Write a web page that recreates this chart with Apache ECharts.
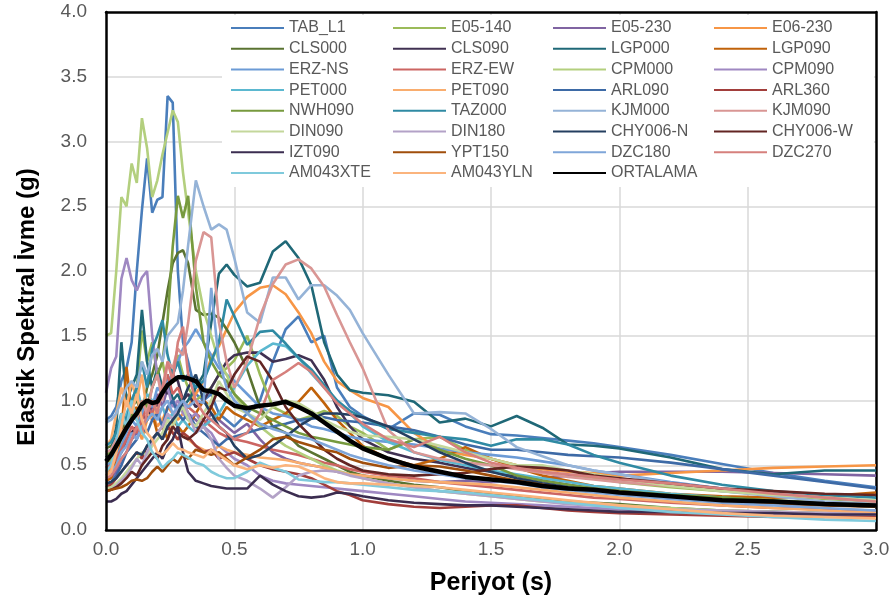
<!DOCTYPE html>
<html>
<head>
<meta charset="utf-8">
<script src="https://cdn.jsdelivr.net/npm/echarts@6/dist/echarts.min.js"></script>
<style>
  html, body { margin: 0; padding: 0; background: #fff; }
  #chart { width: 894px; height: 606px; }
</style>
</head>
<body>
<div id="chart"></div>
<script>
// periyotlar (s)
const periods = [
  0, 0.02, 0.04, 0.06, 0.08, 0.10, 0.12, 0.14, 0.16, 0.18, 0.20, 0.22, 0.24, 0.26, 0.28, 0.30,
  0.32, 0.35, 0.38, 0.41, 0.44, 0.47, 0.50,
  0.55, 0.60, 0.65, 0.70, 0.75, 0.80, 0.85, 0.90, 0.95, 1.0,
  1.1, 1.2, 1.3, 1.4, 1.5, 1.6, 1.7, 1.8, 1.9, 2.0, 2.2, 2.4, 2.6, 2.8, 3.0
];

// spektral ivme değerleri (g), resimden okunmuş yaklaşık değerler
const TAB_L1 = [0.85, 0.88, 0.95, 1.15, 1.25, 1.45, 2.0, 2.47, 2.87, 2.45, 2.55, 2.57, 3.35, 3.3, 2.0, 1.45,
  1.3, 1.05, 1.0, 1.05, 0.9, 0.85, 0.8,
  0.9, 1.0, 1.3, 1.55, 1.65, 1.45, 1.5, 1.1, 0.95, 0.88,
  0.78, 0.9, 0.89, 0.8, 0.74, 0.73, 0.71, 0.69, 0.67, 0.64, 0.58, 0.51, 0.44, 0.38, 0.33];
const E05_140 = [0.52, 0.54, 0.6, 0.7, 0.8, 0.9, 1.1, 1.54, 1.3, 1.45, 1.2, 1.3, 1.1, 1.2, 1.35, 1.2,
  1.1, 1.0, 1.05, 1.1, 1.2, 1.25, 1.31,
  1.5, 1.2, 0.95, 0.9, 0.85, 0.88, 0.92, 0.88, 0.8, 0.75,
  0.62, 0.7, 0.72, 0.62, 0.55, 0.5, 0.45, 0.42, 0.4, 0.37, 0.33, 0.3, 0.27, 0.24, 0.22];
const E05_230 = [0.38, 0.4, 0.45, 0.55, 0.6, 0.7, 0.75, 0.9, 0.85, 0.95, 1.05, 0.95, 1.1, 1.0, 0.95, 1.0,
  0.9, 0.85, 0.8, 0.9, 0.85, 0.8, 0.75,
  0.82, 0.7, 0.6, 0.55, 0.52, 0.5, 0.48, 0.45, 0.43, 0.42,
  0.4, 0.38, 0.37, 0.38, 0.37, 0.38, 0.4, 0.42, 0.44, 0.45, 0.45, 0.45, 0.44, 0.43, 0.42];
const E06_230 = [0.45, 0.47, 0.55, 0.6, 0.7, 0.75, 0.8, 0.7, 0.85, 0.9, 0.8, 0.85, 0.95, 0.9, 0.85, 0.9,
  0.95, 1.05, 1.15, 1.33, 1.42, 1.55, 1.68,
  1.8, 1.87, 1.89, 1.82, 1.68, 1.52, 1.3, 1.15, 1.08, 1.02,
  0.95, 0.75, 0.62, 0.58, 0.55, 0.5, 0.47, 0.45, 0.44, 0.42, 0.44, 0.46, 0.48, 0.49, 0.5];
const CLS000 = [0.63, 0.65, 0.7, 0.75, 0.85, 0.95, 1.0, 0.9, 1.1, 1.2, 1.35, 1.6, 1.85, 2.06, 2.14, 2.16,
  2.06, 1.7, 1.66, 1.67, 1.64, 1.55, 1.45,
  1.24, 0.95, 0.8, 0.75, 0.65, 0.6, 0.55, 0.5, 0.45, 0.42,
  0.38, 0.35, 0.33, 0.3, 0.28, 0.26, 0.24, 0.22, 0.21, 0.2, 0.17, 0.15, 0.14, 0.13, 0.12];
const CLS090 = [0.48, 0.5, 0.55, 0.6, 0.7, 0.75, 0.8, 0.9, 0.85, 1.0, 0.95, 1.1, 1.05, 1.2, 1.15, 1.0,
  1.05, 0.95, 1.0, 1.1, 1.2, 1.3, 1.35,
  1.37, 1.37, 1.3, 1.32, 1.35, 1.31, 1.16, 0.95, 0.8, 0.7,
  0.6, 0.55, 0.52, 0.48, 0.45, 0.42, 0.38, 0.35, 0.32, 0.3, 0.27, 0.24, 0.22, 0.2, 0.18];
const LGP000 = [0.56, 0.6, 0.8, 1.45, 1.0, 1.1, 1.2, 1.7, 1.3, 1.1, 1.25, 1.1, 1.2, 1.0, 1.05, 0.95,
  1.0, 1.1, 1.2, 1.6, 1.98, 2.05, 1.97,
  1.88, 1.91, 2.15, 2.23, 2.1, 1.89, 1.45, 1.2, 1.08, 1.06,
  1.04, 0.99, 0.83, 0.86, 0.8, 0.88, 0.79, 0.66, 0.65, 0.63, 0.56, 0.47, 0.43, 0.46, 0.46];
const LGP090 = [0.38, 0.4, 0.55, 0.75, 1.26, 0.9, 0.95, 0.8, 0.85, 0.9, 0.75, 0.8, 0.7, 0.85, 0.8, 0.75,
  0.8, 0.9, 1.0, 0.95, 0.85, 0.95, 0.9,
  0.85, 0.8, 0.85, 0.9, 0.99, 1.1, 0.98, 0.85, 0.75, 0.65,
  0.55, 0.5, 0.55, 0.64, 0.55, 0.48, 0.42, 0.38, 0.34, 0.32, 0.28, 0.26, 0.25, 0.26, 0.29];
const ERZ_NS = [0.5, 0.52, 0.55, 0.65, 0.75, 0.85, 0.8, 0.9, 1.0, 0.95, 1.1, 1.05, 1.15, 1.2, 1.3, 1.4,
  1.45, 1.55, 1.45, 1.35, 1.25, 1.2, 1.15,
  1.05, 0.95, 0.9, 0.88, 0.85, 0.8, 0.78, 0.75, 0.72, 0.7,
  0.68, 0.66, 0.63, 0.6, 0.58, 0.56, 0.53, 0.5, 0.46, 0.43, 0.37, 0.32, 0.28, 0.25, 0.22];
const ERZ_EW = [0.48, 0.5, 0.55, 0.62, 0.7, 0.8, 0.75, 0.85, 0.95, 0.9, 1.0, 1.1, 1.2, 1.05, 1.1, 1.0,
  0.95, 0.9, 0.85, 0.8, 0.75, 0.72, 0.7,
  0.68, 0.65, 0.62, 0.6, 0.58, 0.55, 0.52, 0.5, 0.47, 0.45,
  0.42, 0.4, 0.37, 0.35, 0.33, 0.31, 0.29, 0.27, 0.25, 0.24, 0.21, 0.19, 0.17, 0.16, 0.15];
const CPM000 = [1.5, 1.52, 2.0, 2.57, 2.5, 2.83, 2.68, 3.18, 2.95, 2.57, 2.7, 2.9, 3.07, 3.24, 3.15, 2.76,
  2.45, 2.0, 1.7, 1.5, 1.3, 1.2, 1.05,
  0.9, 0.8, 0.72, 0.65, 0.6, 0.55, 0.5, 0.46, 0.43, 0.4,
  0.36, 0.33, 0.3, 0.28, 0.26, 0.24, 0.22, 0.21, 0.2, 0.19, 0.17, 0.15, 0.14, 0.13, 0.12];
const CPM090 = [1.06, 1.25, 1.34, 1.94, 2.1, 1.93, 1.85, 1.95, 2.0, 1.5, 1.2, 1.05, 1.1, 0.95, 1.0, 0.9,
  0.85, 0.9, 0.8, 0.75, 0.65, 0.6, 0.55,
  0.5, 0.42, 0.38, 0.36, 0.35, 0.34, 0.33, 0.32, 0.31, 0.3,
  0.28, 0.26, 0.24, 0.22, 0.21, 0.2, 0.19, 0.18, 0.17, 0.16, 0.14, 0.13, 0.12, 0.11, 0.1];
const PET000 = [0.6, 0.62, 0.7, 0.8, 0.9, 1.0, 1.1, 0.95, 1.05, 1.0, 0.9, 0.95, 0.85, 0.9, 0.8, 0.85,
  0.8, 0.75, 0.8, 0.85, 0.9, 1.0, 1.1,
  1.27, 1.38, 1.44, 1.42, 1.33, 1.21, 1.1, 1.0, 0.9, 0.8,
  0.68, 0.6, 0.54, 0.5, 0.46, 0.43, 0.4, 0.37, 0.34, 0.32, 0.28, 0.25, 0.22, 0.2, 0.18];
const PET090 = [0.65, 0.7, 0.9, 1.1, 0.95, 1.15, 1.0, 1.2, 0.9, 0.85, 0.95, 0.8, 0.85, 0.75, 0.7, 0.75,
  0.7, 0.65, 0.62, 0.6, 0.65, 0.62, 0.6,
  0.58, 0.56, 0.55, 0.54, 0.52, 0.5, 0.48, 0.45, 0.43, 0.42,
  0.4, 0.38, 0.37, 0.36, 0.35, 0.33, 0.31, 0.29, 0.27, 0.25, 0.22, 0.19, 0.17, 0.15, 0.13];
const ARL090 = [0.35, 0.37, 0.42, 0.5, 0.6, 0.65, 0.7, 0.8, 0.75, 0.85, 0.9, 0.8, 0.95, 1.0, 0.9, 0.85,
  0.9, 0.8, 0.75, 0.7, 0.65, 0.7, 0.72,
  0.75, 0.78, 0.8, 0.82, 0.85, 0.86, 0.87, 0.85, 0.84, 0.83,
  0.8, 0.77, 0.72, 0.66, 0.62, 0.62, 0.6, 0.58, 0.57, 0.56, 0.52, 0.47, 0.42, 0.37, 0.32];
const ARL360 = [0.33, 0.35, 0.4, 0.45, 0.5, 0.55, 0.6, 0.55, 0.65, 0.7, 0.75, 0.7, 0.8, 0.75, 0.7, 0.75,
  0.72, 0.65, 0.6, 0.62, 0.55, 0.58, 0.6,
  0.55, 0.5, 0.47, 0.45, 0.43, 0.4, 0.35, 0.3, 0.27, 0.23,
  0.2, 0.18, 0.17, 0.18, 0.19, 0.19, 0.17, 0.15, 0.14, 0.13, 0.12, 0.11, 0.1, 0.1, 0.1];
const NWH090 = [0.58, 0.6, 0.65, 0.75, 0.8, 0.9, 0.85, 1.0, 0.95, 1.1, 1.2, 1.3, 1.62, 2.19, 2.58, 2.41,
  2.58, 1.88, 1.45, 1.3, 1.2, 1.15, 1.05,
  0.95, 0.9, 0.85, 0.8, 0.75, 0.72, 0.7, 0.68, 0.66, 0.64,
  0.62, 0.7, 0.62, 0.55, 0.5, 0.42, 0.38, 0.35, 0.32, 0.3, 0.27, 0.25, 0.23, 0.21, 0.2];
const TAZ000 = [0.65, 0.68, 0.75, 0.9, 0.85, 1.0, 1.1, 1.3, 1.1, 1.4, 1.5, 1.62, 1.35, 1.2, 1.3, 1.15,
  1.2, 1.1, 1.15, 1.3, 1.45, 1.78, 1.65,
  1.43, 1.53, 1.54, 1.44, 1.33, 1.24, 1.12, 1.0, 0.92, 0.87,
  0.78, 0.75, 0.72, 0.7, 0.65, 0.7, 0.7, 0.66, 0.58, 0.52, 0.42, 0.35, 0.3, 0.27, 0.25];
const KJM000 = [0.83, 0.85, 0.9, 1.0, 1.1, 1.15, 1.1, 1.3, 1.2, 1.35, 1.4, 1.3, 1.5, 1.55, 1.6, 1.85,
  2.2, 2.7, 2.5, 2.32, 2.36, 2.32, 2.1,
  1.68, 1.6, 1.95, 1.95, 1.78, 1.89, 1.89, 1.81, 1.7, 1.52,
  1.2, 0.9, 0.91, 0.9, 0.78, 0.64, 0.57, 0.5, 0.46, 0.43, 0.36, 0.3, 0.26, 0.22, 0.2];
const KJM090 = [0.6, 0.62, 0.7, 0.75, 0.8, 0.95, 0.85, 1.0, 0.9, 1.1, 1.2, 1.0, 1.3, 1.25, 1.4, 1.35,
  1.6, 2.08, 2.3, 2.26, 1.6, 1.3, 1.1,
  1.3, 1.65, 1.9, 2.05, 2.09, 2.02, 1.88, 1.66, 1.45, 1.25,
  0.77, 0.6, 0.55, 0.52, 0.5, 0.47, 0.44, 0.41, 0.39, 0.37, 0.34, 0.31, 0.28, 0.25, 0.22];
const DIN090 = [0.32, 0.33, 0.36, 0.4, 0.45, 0.5, 0.55, 0.6, 0.58, 0.65, 0.7, 0.75, 0.85, 0.8, 0.9, 0.95,
  0.85, 0.8, 0.9, 1.0, 1.15, 1.05, 0.95,
  0.9, 0.85, 0.95, 1.0, 0.98, 0.92, 0.85, 0.8, 0.76, 0.73,
  0.72, 0.7, 0.65, 0.6, 0.55, 0.5, 0.5, 0.46, 0.43, 0.4, 0.34, 0.3, 0.27, 0.25, 0.23];
const DIN180 = [0.3, 0.31, 0.34, 0.38, 0.42, 0.48, 0.55, 0.5, 0.6, 0.68, 0.75, 0.8, 0.9, 0.85, 0.95, 1.0,
  0.9, 0.75, 0.8, 0.7, 0.55, 0.48, 0.42,
  0.38, 0.32, 0.25, 0.33, 0.42, 0.45, 0.46, 0.45, 0.42, 0.4,
  0.36, 0.33, 0.3, 0.28, 0.26, 0.24, 0.22, 0.2, 0.19, 0.18, 0.16, 0.15, 0.14, 0.13, 0.12];
const CHY006_N = [0.36, 0.37, 0.4, 0.45, 0.5, 0.55, 0.6, 0.58, 0.65, 0.7, 0.75, 0.7, 0.8, 0.85, 0.9, 1.0,
  1.1, 1.2, 1.0, 0.9, 0.8, 0.75, 0.65,
  0.55, 0.58, 0.65, 0.72, 0.8, 0.86, 0.9, 0.9, 0.89, 0.87,
  0.8, 0.7, 0.6, 0.52, 0.45, 0.4, 0.36, 0.33, 0.3, 0.28, 0.25, 0.23, 0.21, 0.2, 0.19];
const CHY006_W = [0.3, 0.31, 0.33, 0.36, 0.4, 0.45, 0.42, 0.5, 0.55, 0.6, 0.55, 0.65, 0.7, 0.8, 0.75, 0.72,
  0.7, 0.75, 0.85, 0.95, 1.1, 1.08, 1.2,
  1.34, 1.3, 1.15, 0.95, 0.82, 0.72, 0.62, 0.55, 0.5, 0.46,
  0.43, 0.42, 0.43, 0.44, 0.47, 0.49, 0.48, 0.46, 0.42, 0.4, 0.36, 0.32, 0.3, 0.28, 0.27];
const IZT090 = [0.22, 0.22, 0.24, 0.28, 0.3, 0.35, 0.4, 0.45, 0.5, 0.55, 0.6, 0.55, 0.65, 0.7, 0.8, 0.6,
  0.45, 0.38, 0.36, 0.34, 0.33, 0.32, 0.32,
  0.32, 0.42, 0.35, 0.3, 0.26, 0.25, 0.26, 0.29, 0.28, 0.26,
  0.23, 0.21, 0.2, 0.19, 0.19, 0.18, 0.17, 0.16, 0.15, 0.14, 0.14, 0.13, 0.13, 0.12, 0.12];
const YPT150 = [0.3, 0.31, 0.32, 0.33, 0.35, 0.38, 0.39, 0.38, 0.4, 0.45, 0.49, 0.45, 0.5, 0.55, 0.52, 0.58,
  0.55, 0.62, 0.6, 0.58, 0.6, 0.55, 0.5,
  0.56, 0.62, 0.7, 0.72, 0.68, 0.65, 0.62, 0.6, 0.55, 0.52,
  0.48, 0.5, 0.49, 0.46, 0.42, 0.38, 0.35, 0.32, 0.3, 0.28, 0.25, 0.22, 0.2, 0.19, 0.18];
const DZC180 = [0.42, 0.45, 0.5, 0.6, 0.65, 0.75, 0.7, 0.8, 0.85, 0.9, 0.85, 0.95, 1.0, 0.9, 0.95, 1.0,
  0.95, 1.0, 0.98, 1.87, 1.3, 1.1, 1.0,
  0.9, 0.82, 0.78, 0.75, 0.72, 0.7, 0.66, 0.62, 0.58, 0.55,
  0.5, 0.46, 0.43, 0.4, 0.38, 0.36, 0.33, 0.31, 0.29, 0.27, 0.24, 0.21, 0.19, 0.17, 0.15];
const DZC270 = [0.4, 0.42, 0.48, 0.55, 0.6, 0.7, 0.8, 0.75, 0.9, 1.0, 0.9, 1.1, 1.3, 1.15, 1.45, 1.57,
  1.2, 1.0, 0.9, 0.85, 0.8, 0.75, 0.7,
  0.75, 0.9, 1.16, 1.22, 1.29, 1.22, 1.1, 0.98, 0.9, 0.82,
  0.7, 0.64, 0.72, 0.6, 0.52, 0.48, 0.45, 0.43, 0.41, 0.39, 0.36, 0.32, 0.28, 0.25, 0.22];
const AM043XTE = [0.45, 0.5, 0.65, 0.9, 0.8, 1.0, 0.85, 0.75, 0.7, 0.6, 0.55, 0.48, 0.52, 0.55, 0.6, 0.58,
  0.56, 0.52, 0.5, 0.45, 0.42, 0.4, 0.4,
  0.45, 0.52, 0.48, 0.45, 0.39, 0.38, 0.37, 0.37, 0.36, 0.35,
  0.33, 0.31, 0.3, 0.29, 0.27, 0.25, 0.23, 0.21, 0.19, 0.17, 0.14, 0.12, 0.1, 0.08, 0.07];
const AM043YLN = [0.42, 0.45, 0.6, 0.8, 1.0, 0.9, 1.05, 0.85, 0.75, 0.7, 0.6, 0.58, 0.62, 0.67, 0.63, 0.62,
  0.6, 0.58, 0.56, 0.62, 0.58, 0.54, 0.5,
  0.47, 0.5, 0.48, 0.5, 0.49, 0.45, 0.4, 0.37, 0.36, 0.36,
  0.35, 0.34, 0.33, 0.31, 0.29, 0.27, 0.25, 0.23, 0.21, 0.19, 0.16, 0.13, 0.11, 0.1, 0.09];
const ORTALAMA = [0.53, 0.58, 0.65, 0.72, 0.79, 0.85, 0.9, 0.97, 1.0, 0.98, 0.99, 1.06, 1.12, 1.15, 1.18, 1.18,
  1.17, 1.15, 1.08, 1.07, 1.05, 1.0, 0.96,
  0.94, 0.96, 0.97, 0.99, 0.95, 0.9, 0.83, 0.76, 0.69, 0.63,
  0.55, 0.49, 0.45, 0.41, 0.39, 0.37, 0.34, 0.32, 0.31, 0.29, 0.26, 0.23, 0.22, 0.2, 0.19];

// kayıt adları ve çizgi renkleri (çizim sırası)
const records = [
  ['TAB_L1', TAB_L1, '#4A7EBB'], ['E05-140', E05_140, '#9BBB59'], ['E05-230', E05_230, '#8064A2'],
  ['E06-230', E06_230, '#F79646'], ['CLS000', CLS000, '#5A7331'], ['CLS090', CLS090, '#403152'],
  ['LGP000', LGP000, '#1F6877'], ['LGP090', LGP090, '#C0620A'], ['ERZ-NS', ERZ_NS, '#6C9BD6'],
  ['ERZ-EW', ERZ_EW, '#CC6562'], ['CPM000', CPM000, '#B3CF7E'], ['CPM090', CPM090, '#9F88C2'],
  ['PET000', PET000, '#5BB8D0'], ['PET090', PET090, '#F9AD6E'], ['ARL090', ARL090, '#3D6AA6'],
  ['ARL360', ARL360, '#A23E3B'], ['NWH090', NWH090, '#779A3E'], ['TAZ000', TAZ000, '#2F8AA3'],
  ['KJM000', KJM000, '#95B3D7'], ['KJM090', KJM090, '#D99694'], ['DIN090', DIN090, '#C4D79B'],
  ['DIN180', DIN180, '#B3A2C7'], ['CHY006-N', CHY006_N, '#243F60'], ['CHY006-W', CHY006_W, '#632523'],
  ['IZT090', IZT090, '#3B2D50'], ['YPT150', YPT150, '#A04E0B'], ['DZC180', DZC180, '#7FA6D9'],
  ['DZC270', DZC270, '#D6807D'], ['AM043XTE', AM043XTE, '#7FCADC'], ['AM043YLN', AM043YLN, '#FBB47D'],
  ['ORTALAMA', ORTALAMA, '#000000']
];

const yTicks = ['0.0', '0.5', '1.0', '1.5', '2.0', '2.5', '3.0', '3.5', '4.0'];
const xTicks = ['0.0', '0.5', '1.0', '1.5', '2.0', '2.5', '3.0'];

const chart = echarts.init(document.getElementById('chart'));
const font = 'Liberation Sans';
const names = records.map(r => r[0]);

// legend: 4 sütun, satır satır dolduruluyor
const legendCols = [0, 1, 2, 3].map(c => names.filter((n, i) => i % 4 === c));
const legendLeft = [230, 392, 552, 713];
const legends = legendCols.map((col, c) => ({
  data: col,
  orient: 'vertical',
  left: legendLeft[c],
  top: 20,
  itemWidth: 53,
  itemHeight: 14,
  itemGap: 4.7,
  padding: 0,
  itemStyle: { opacity: 0 },
  textStyle: { color: '#595959', fontSize: 16, fontFamily: font },
  selectedMode: false
}));

const series = records.map(([name, vals, color]) => ({
  name,
  type: 'line',
  data: periods.map((t, i) => [t, vals[i]]),
  symbol: 'none',
  lineStyle: { width: name === 'ORTALAMA' ? 4.5 : 2.6, color },
  itemStyle: { color },
  emphasis: { disabled: true },
  silent: true,
  animation: false
}));

const gridLine = { show: true, showMinLine: false, showMaxLine: false,
  lineStyle: { color: '#D9D9D9', width: 1.5 } };
const frameLine = { show: true, onZero: false, lineStyle: { color: '#000', width: 2.5 } };

chart.setOption({
  animation: false,
  backgroundColor: '#fff',
  grid: { left: 106, right: 18, top: 12, bottom: 76 },
  legend: legends,
  graphic: [
    { type: 'rect', z: 1, silent: true,
      shape: { x: 222, y: 15, width: 652, height: 172 }, style: { fill: '#fff' } },
    { type: 'text', z: 10, silent: true, x: 27, y: 307, rotation: Math.PI / 2,
      style: { text: 'Elastik Spektral İvme (g)', fill: '#000', font: 'bold 24px "Liberation Sans"',
        align: 'center', verticalAlign: 'middle' } }
  ],
  xAxis: [{
    type: 'value', min: 0, max: 3, interval: 0.5,
    name: 'Periyot (s)', nameLocation: 'middle', nameGap: 41,
    nameTextStyle: { fontSize: 25, fontWeight: 'bold', color: '#000', fontFamily: font },
    axisLine: frameLine, axisTick: { show: false },
    axisLabel: { color: '#595959', fontSize: 19, fontFamily: font, margin: 10,
      formatter: v => xTicks[Math.round(v / 0.5)] },
    splitLine: { show: false },
    z: 5
  }, {
    type: 'value', min: 0, max: 3, interval: 0.5, position: 'top',
    axisLine: frameLine, axisTick: { show: false }, axisLabel: { show: false },
    splitLine: gridLine, z: 0
  }],
  yAxis: [{
    type: 'value', min: 0, max: 4, interval: 0.5,
    axisLine: frameLine, axisTick: { show: false },
    axisLabel: { color: '#595959', fontSize: 19, fontFamily: font, margin: 19,
      formatter: v => yTicks[Math.round(v / 0.5)] },
    splitLine: { show: false },
    z: 5
  }, {
    type: 'value', min: 0, max: 4, interval: 0.5, position: 'right',
    axisLine: frameLine, axisTick: { show: false }, axisLabel: { show: false },
    splitLine: gridLine, z: 0
  }],
  series
});

window.addEventListener('resize', () => chart.resize());
</script>
</body>
</html>
